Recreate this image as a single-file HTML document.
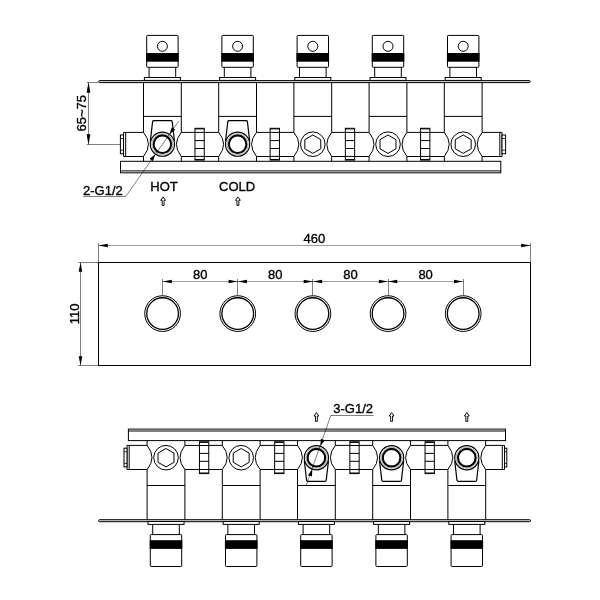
<!DOCTYPE html>
<html><head><meta charset="utf-8"><title>drawing</title>
<style>html,body{margin:0;padding:0;background:#fff}svg{display:block;will-change:transform}text{font-family:"Liberation Sans",sans-serif;fill:#000;stroke:#000;stroke-width:0.35px}</style>
</head><body>
<svg width="600" height="600" viewBox="0 0 600 600">
<rect width="600" height="600" fill="#fff"/>
<path d="M99.60,80.60 H529.20 A1,1 0 0 1 529.20,82.60 H99.60 A1,1 0 0 1 99.60,80.60 Z" fill="#ddd" stroke="#000" stroke-width="1.0" />
<rect x="120.50" y="161.30" width="380.30" height="11.50" rx="0" fill="#fff" stroke="#000" stroke-width="1.0"/>
<line x1="120.50" y1="170.90" x2="500.80" y2="170.90" stroke="#000" stroke-width="1.0"/>
<rect x="146.70" y="35.40" width="31.40" height="31.90" rx="0.8" fill="#fff" stroke="#000" stroke-width="1.0"/>
<circle cx="162.40" cy="46.30" r="5.00" fill="none" stroke="#000" stroke-width="1.0"/>
<rect x="146.10" y="53.00" width="32.60" height="8.70" rx="0" fill="#000" stroke="none" stroke-width="0"/>
<line x1="149.10" y1="67.30" x2="149.10" y2="77.50" stroke="#000" stroke-width="1.0"/>
<line x1="175.70" y1="67.30" x2="175.70" y2="77.50" stroke="#000" stroke-width="1.0"/>
<rect x="144.40" y="77.50" width="36.00" height="2.90" rx="0" fill="#fff" stroke="#000" stroke-width="1.0"/>
<line x1="143.50" y1="82.40" x2="143.50" y2="132.40" stroke="#000" stroke-width="1.0"/>
<line x1="181.30" y1="82.40" x2="181.30" y2="132.40" stroke="#000" stroke-width="1.0"/>
<line x1="143.50" y1="156.50" x2="143.50" y2="161.30" stroke="#000" stroke-width="1.0"/>
<line x1="181.30" y1="156.50" x2="181.30" y2="161.30" stroke="#000" stroke-width="1.0"/>
<line x1="143.50" y1="116.40" x2="181.30" y2="116.40" stroke="#000" stroke-width="1.0"/>
<path d="M143.50,132.40 Q153.30,144.20 143.50,156.50" fill="none" stroke="#000" stroke-width="1.0" />
<path d="M181.30,132.40 Q171.50,144.20 181.30,156.50" fill="none" stroke="#000" stroke-width="1.0" />
<path d="M150.30,141.20 L152.60,121.60 Q152.80,120.60 153.80,120.60 H171.00 Q172.00,120.60 172.20,121.60 L174.50,141.20" fill="none" stroke="#000" stroke-width="1.2" />
<circle cx="162.40" cy="144.20" r="12.10" fill="#fff" stroke="#000" stroke-width="1.15"/>
<circle cx="162.40" cy="144.20" r="10.65" fill="none" stroke="#000" stroke-width="0.3"/>
<circle cx="162.40" cy="144.20" r="8.80" fill="none" stroke="#000" stroke-width="2.1"/>
<rect x="221.90" y="35.40" width="31.40" height="31.90" rx="0.8" fill="#fff" stroke="#000" stroke-width="1.0"/>
<circle cx="237.60" cy="46.30" r="5.00" fill="none" stroke="#000" stroke-width="1.0"/>
<rect x="221.30" y="53.00" width="32.60" height="8.70" rx="0" fill="#000" stroke="none" stroke-width="0"/>
<line x1="224.30" y1="67.30" x2="224.30" y2="77.50" stroke="#000" stroke-width="1.0"/>
<line x1="250.90" y1="67.30" x2="250.90" y2="77.50" stroke="#000" stroke-width="1.0"/>
<rect x="219.60" y="77.50" width="36.00" height="2.90" rx="0" fill="#fff" stroke="#000" stroke-width="1.0"/>
<line x1="218.70" y1="82.40" x2="218.70" y2="132.40" stroke="#000" stroke-width="1.0"/>
<line x1="256.50" y1="82.40" x2="256.50" y2="132.40" stroke="#000" stroke-width="1.0"/>
<line x1="218.70" y1="156.50" x2="218.70" y2="161.30" stroke="#000" stroke-width="1.0"/>
<line x1="256.50" y1="156.50" x2="256.50" y2="161.30" stroke="#000" stroke-width="1.0"/>
<line x1="218.70" y1="116.40" x2="256.50" y2="116.40" stroke="#000" stroke-width="1.0"/>
<path d="M218.70,132.40 Q228.50,144.20 218.70,156.50" fill="none" stroke="#000" stroke-width="1.0" />
<path d="M256.50,132.40 Q246.70,144.20 256.50,156.50" fill="none" stroke="#000" stroke-width="1.0" />
<path d="M225.50,141.20 L227.80,121.60 Q228.00,120.60 229.00,120.60 H246.20 Q247.20,120.60 247.40,121.60 L249.70,141.20" fill="none" stroke="#000" stroke-width="1.2" />
<circle cx="237.60" cy="144.20" r="12.10" fill="#fff" stroke="#000" stroke-width="1.15"/>
<circle cx="237.60" cy="144.20" r="10.65" fill="none" stroke="#000" stroke-width="0.3"/>
<circle cx="237.60" cy="144.20" r="8.80" fill="none" stroke="#000" stroke-width="2.1"/>
<rect x="297.10" y="35.40" width="31.40" height="31.90" rx="0.8" fill="#fff" stroke="#000" stroke-width="1.0"/>
<circle cx="312.80" cy="46.30" r="5.00" fill="none" stroke="#000" stroke-width="1.0"/>
<rect x="296.50" y="53.00" width="32.60" height="8.70" rx="0" fill="#000" stroke="none" stroke-width="0"/>
<line x1="299.50" y1="67.30" x2="299.50" y2="77.50" stroke="#000" stroke-width="1.0"/>
<line x1="326.10" y1="67.30" x2="326.10" y2="77.50" stroke="#000" stroke-width="1.0"/>
<rect x="294.80" y="77.50" width="36.00" height="2.90" rx="0" fill="#fff" stroke="#000" stroke-width="1.0"/>
<line x1="293.90" y1="82.40" x2="293.90" y2="132.40" stroke="#000" stroke-width="1.0"/>
<line x1="331.70" y1="82.40" x2="331.70" y2="132.40" stroke="#000" stroke-width="1.0"/>
<line x1="293.90" y1="156.50" x2="293.90" y2="161.30" stroke="#000" stroke-width="1.0"/>
<line x1="331.70" y1="156.50" x2="331.70" y2="161.30" stroke="#000" stroke-width="1.0"/>
<line x1="293.90" y1="116.40" x2="331.70" y2="116.40" stroke="#000" stroke-width="1.0"/>
<path d="M293.90,132.40 Q303.70,144.20 293.90,156.50" fill="none" stroke="#000" stroke-width="1.0" />
<path d="M331.70,132.40 Q321.90,144.20 331.70,156.50" fill="none" stroke="#000" stroke-width="1.0" />
<circle cx="312.80" cy="144.20" r="12.30" fill="#fff" stroke="#000" stroke-width="1.0"/>
<path d="M312.80,153.40 L304.83,148.80 L304.83,139.60 L312.80,135.00 L320.77,139.60 L320.77,148.80 Z" fill="none" stroke="#000" stroke-width="1.0" />
<rect x="372.30" y="35.40" width="31.40" height="31.90" rx="0.8" fill="#fff" stroke="#000" stroke-width="1.0"/>
<circle cx="388.00" cy="46.30" r="5.00" fill="none" stroke="#000" stroke-width="1.0"/>
<rect x="371.70" y="53.00" width="32.60" height="8.70" rx="0" fill="#000" stroke="none" stroke-width="0"/>
<line x1="374.70" y1="67.30" x2="374.70" y2="77.50" stroke="#000" stroke-width="1.0"/>
<line x1="401.30" y1="67.30" x2="401.30" y2="77.50" stroke="#000" stroke-width="1.0"/>
<rect x="370.00" y="77.50" width="36.00" height="2.90" rx="0" fill="#fff" stroke="#000" stroke-width="1.0"/>
<line x1="369.10" y1="82.40" x2="369.10" y2="132.40" stroke="#000" stroke-width="1.0"/>
<line x1="406.90" y1="82.40" x2="406.90" y2="132.40" stroke="#000" stroke-width="1.0"/>
<line x1="369.10" y1="156.50" x2="369.10" y2="161.30" stroke="#000" stroke-width="1.0"/>
<line x1="406.90" y1="156.50" x2="406.90" y2="161.30" stroke="#000" stroke-width="1.0"/>
<line x1="369.10" y1="116.40" x2="406.90" y2="116.40" stroke="#000" stroke-width="1.0"/>
<path d="M369.10,132.40 Q378.90,144.20 369.10,156.50" fill="none" stroke="#000" stroke-width="1.0" />
<path d="M406.90,132.40 Q397.10,144.20 406.90,156.50" fill="none" stroke="#000" stroke-width="1.0" />
<circle cx="388.00" cy="144.20" r="12.30" fill="#fff" stroke="#000" stroke-width="1.0"/>
<path d="M388.00,153.40 L380.03,148.80 L380.03,139.60 L388.00,135.00 L395.97,139.60 L395.97,148.80 Z" fill="none" stroke="#000" stroke-width="1.0" />
<rect x="447.50" y="35.40" width="31.40" height="31.90" rx="0.8" fill="#fff" stroke="#000" stroke-width="1.0"/>
<circle cx="463.20" cy="46.30" r="5.00" fill="none" stroke="#000" stroke-width="1.0"/>
<rect x="446.90" y="53.00" width="32.60" height="8.70" rx="0" fill="#000" stroke="none" stroke-width="0"/>
<line x1="449.90" y1="67.30" x2="449.90" y2="77.50" stroke="#000" stroke-width="1.0"/>
<line x1="476.50" y1="67.30" x2="476.50" y2="77.50" stroke="#000" stroke-width="1.0"/>
<rect x="445.20" y="77.50" width="36.00" height="2.90" rx="0" fill="#fff" stroke="#000" stroke-width="1.0"/>
<line x1="444.30" y1="82.40" x2="444.30" y2="132.40" stroke="#000" stroke-width="1.0"/>
<line x1="482.10" y1="82.40" x2="482.10" y2="132.40" stroke="#000" stroke-width="1.0"/>
<line x1="444.30" y1="156.50" x2="444.30" y2="161.30" stroke="#000" stroke-width="1.0"/>
<line x1="482.10" y1="156.50" x2="482.10" y2="161.30" stroke="#000" stroke-width="1.0"/>
<line x1="444.30" y1="116.40" x2="482.10" y2="116.40" stroke="#000" stroke-width="1.0"/>
<path d="M444.30,132.40 Q454.10,144.20 444.30,156.50" fill="none" stroke="#000" stroke-width="1.0" />
<path d="M482.10,132.40 Q472.30,144.20 482.10,156.50" fill="none" stroke="#000" stroke-width="1.0" />
<circle cx="463.20" cy="144.20" r="12.30" fill="#fff" stroke="#000" stroke-width="1.0"/>
<path d="M463.20,153.40 L455.23,148.80 L455.23,139.60 L463.20,135.00 L471.17,139.60 L471.17,148.80 Z" fill="none" stroke="#000" stroke-width="1.0" />
<line x1="181.30" y1="132.40" x2="218.70" y2="132.40" stroke="#000" stroke-width="1.0"/>
<line x1="181.30" y1="156.50" x2="218.70" y2="156.50" stroke="#000" stroke-width="1.0"/>
<rect x="194.95" y="128.30" width="9.30" height="31.80" rx="0" fill="#fff" stroke="#000" stroke-width="1.0"/>
<line x1="194.95" y1="128.90" x2="204.25" y2="128.90" stroke="#000" stroke-width="1.0"/>
<line x1="194.95" y1="132.40" x2="204.25" y2="132.40" stroke="#000" stroke-width="1.0"/>
<line x1="194.95" y1="140.60" x2="204.25" y2="140.60" stroke="#000" stroke-width="1.0"/>
<line x1="194.95" y1="148.50" x2="204.25" y2="148.50" stroke="#000" stroke-width="1.0"/>
<line x1="194.95" y1="156.40" x2="204.25" y2="156.40" stroke="#000" stroke-width="1.0"/>
<line x1="194.95" y1="159.50" x2="204.25" y2="159.50" stroke="#000" stroke-width="1.0"/>
<line x1="256.50" y1="132.40" x2="293.90" y2="132.40" stroke="#000" stroke-width="1.0"/>
<line x1="256.50" y1="156.50" x2="293.90" y2="156.50" stroke="#000" stroke-width="1.0"/>
<rect x="270.15" y="128.30" width="9.30" height="31.80" rx="0" fill="#fff" stroke="#000" stroke-width="1.0"/>
<line x1="270.15" y1="128.90" x2="279.45" y2="128.90" stroke="#000" stroke-width="1.0"/>
<line x1="270.15" y1="132.40" x2="279.45" y2="132.40" stroke="#000" stroke-width="1.0"/>
<line x1="270.15" y1="140.60" x2="279.45" y2="140.60" stroke="#000" stroke-width="1.0"/>
<line x1="270.15" y1="148.50" x2="279.45" y2="148.50" stroke="#000" stroke-width="1.0"/>
<line x1="270.15" y1="156.40" x2="279.45" y2="156.40" stroke="#000" stroke-width="1.0"/>
<line x1="270.15" y1="159.50" x2="279.45" y2="159.50" stroke="#000" stroke-width="1.0"/>
<line x1="331.70" y1="132.40" x2="369.10" y2="132.40" stroke="#000" stroke-width="1.0"/>
<line x1="331.70" y1="156.50" x2="369.10" y2="156.50" stroke="#000" stroke-width="1.0"/>
<rect x="345.35" y="128.30" width="9.30" height="31.80" rx="0" fill="#fff" stroke="#000" stroke-width="1.0"/>
<line x1="345.35" y1="128.90" x2="354.65" y2="128.90" stroke="#000" stroke-width="1.0"/>
<line x1="345.35" y1="132.40" x2="354.65" y2="132.40" stroke="#000" stroke-width="1.0"/>
<line x1="345.35" y1="140.60" x2="354.65" y2="140.60" stroke="#000" stroke-width="1.0"/>
<line x1="345.35" y1="148.50" x2="354.65" y2="148.50" stroke="#000" stroke-width="1.0"/>
<line x1="345.35" y1="156.40" x2="354.65" y2="156.40" stroke="#000" stroke-width="1.0"/>
<line x1="345.35" y1="159.50" x2="354.65" y2="159.50" stroke="#000" stroke-width="1.0"/>
<line x1="406.90" y1="132.40" x2="444.30" y2="132.40" stroke="#000" stroke-width="1.0"/>
<line x1="406.90" y1="156.50" x2="444.30" y2="156.50" stroke="#000" stroke-width="1.0"/>
<rect x="420.55" y="128.30" width="9.30" height="31.80" rx="0" fill="#fff" stroke="#000" stroke-width="1.0"/>
<line x1="420.55" y1="128.90" x2="429.85" y2="128.90" stroke="#000" stroke-width="1.0"/>
<line x1="420.55" y1="132.40" x2="429.85" y2="132.40" stroke="#000" stroke-width="1.0"/>
<line x1="420.55" y1="140.60" x2="429.85" y2="140.60" stroke="#000" stroke-width="1.0"/>
<line x1="420.55" y1="148.50" x2="429.85" y2="148.50" stroke="#000" stroke-width="1.0"/>
<line x1="420.55" y1="156.40" x2="429.85" y2="156.40" stroke="#000" stroke-width="1.0"/>
<line x1="420.55" y1="159.50" x2="429.85" y2="159.50" stroke="#000" stroke-width="1.0"/>
<path d="M143.50,132.40 H123.50 V156.50 H143.50" fill="none" stroke="#000" stroke-width="1.0" />
<line x1="125.70" y1="132.40" x2="125.70" y2="156.50" stroke="#000" stroke-width="1.0"/>
<rect x="120.40" y="135.00" width="3.10" height="18.70" rx="0" fill="#fff" stroke="#000" stroke-width="1.0"/>
<line x1="120.40" y1="138.50" x2="123.50" y2="138.50" stroke="#000" stroke-width="0.8"/>
<line x1="120.40" y1="150.20" x2="123.50" y2="150.20" stroke="#000" stroke-width="0.8"/>
<path d="M482.10,132.40 H502.00 V156.50 H482.10" fill="none" stroke="#000" stroke-width="1.0" />
<line x1="499.80" y1="132.40" x2="499.80" y2="156.50" stroke="#000" stroke-width="1.0"/>
<rect x="502.00" y="135.00" width="3.60" height="18.70" rx="0" fill="#fff" stroke="#000" stroke-width="1.0"/>
<line x1="502.00" y1="138.50" x2="505.60" y2="138.50" stroke="#000" stroke-width="0.8"/>
<line x1="502.00" y1="150.20" x2="505.60" y2="150.20" stroke="#000" stroke-width="0.8"/>
<line x1="86.70" y1="82.50" x2="98.30" y2="82.50" stroke="#000" stroke-width="0.5"/>
<line x1="86.70" y1="144.50" x2="120.00" y2="144.50" stroke="#000" stroke-width="0.5"/>
<line x1="88.50" y1="82.50" x2="88.50" y2="144.50" stroke="#000" stroke-width="0.5"/>
<polygon points="88.50,82.30 90.40,92.80 86.60,92.80" fill="#000"/>
<polygon points="88.50,144.70 86.60,134.20 90.40,134.20" fill="#000"/>
<text x="86.30" y="113.30" font-size="13" text-anchor="middle" transform="rotate(-90 86.30 113.30)">65~75</text>
<text x="83.00" y="194.70" font-size="13" text-anchor="start">2-G1/2</text>
<line x1="83.30" y1="196.50" x2="125.80" y2="196.50" stroke="#000" stroke-width="0.5"/>
<line x1="125.80" y1="196.30" x2="178.80" y2="121.10" stroke="#000" stroke-width="0.5"/>
<polygon points="169.48,134.14 171.80,127.21 175.23,129.63" fill="#000"/>
<polygon points="155.32,154.26 153.00,161.19 149.57,158.77" fill="#000"/>
<text x="150.30" y="191.00" font-size="13" text-anchor="start">HOT</text>
<text x="219.00" y="191.00" font-size="13" text-anchor="start">COLD</text>
<path d="M163.10,196.90 L165.50,200.30 H164.05 V205.45 H162.15 V200.30 H160.70 Z" fill="none" stroke="#000" stroke-width="0.95" stroke-linejoin="miter"/>
<path d="M237.90,196.90 L240.30,200.30 H238.85 V205.45 H236.95 V200.30 H235.50 Z" fill="none" stroke="#000" stroke-width="0.95" stroke-linejoin="miter"/>
<rect x="98.50" y="262.50" width="432.00" height="103.00" rx="0" fill="none" stroke="#000" stroke-width="1.0"/>
<line x1="98.50" y1="243.00" x2="98.50" y2="262.00" stroke="#000" stroke-width="0.5"/>
<line x1="530.50" y1="243.00" x2="530.50" y2="262.00" stroke="#000" stroke-width="0.5"/>
<line x1="98.50" y1="245.50" x2="530.50" y2="245.50" stroke="#000" stroke-width="0.38"/>
<polygon points="98.30,245.50 107.80,243.70 107.80,247.30" fill="#000"/>
<polygon points="530.70,245.50 521.20,247.30 521.20,243.70" fill="#000"/>
<text x="314.30" y="243.00" font-size="13" text-anchor="middle">460</text>
<line x1="78.30" y1="262.50" x2="98.50" y2="262.50" stroke="#000" stroke-width="0.5"/>
<line x1="78.30" y1="365.50" x2="98.50" y2="365.50" stroke="#000" stroke-width="0.5"/>
<line x1="80.50" y1="262.50" x2="80.50" y2="365.50" stroke="#000" stroke-width="0.5"/>
<polygon points="80.50,262.30 82.30,271.80 78.70,271.80" fill="#000"/>
<polygon points="80.50,365.70 78.70,356.20 82.30,356.20" fill="#000"/>
<text x="79.00" y="313.90" font-size="13" text-anchor="middle" transform="rotate(-90 79.00 313.90)">110</text>
<circle cx="162.60" cy="313.60" r="17.85" fill="none" stroke="#000" stroke-width="1.0"/>
<circle cx="162.60" cy="313.60" r="15.85" fill="none" stroke="#000" stroke-width="1.3"/>
<line x1="162.50" y1="279.00" x2="162.50" y2="295.40" stroke="#000" stroke-width="0.5"/>
<line x1="162.60" y1="281.50" x2="237.75" y2="281.50" stroke="#000" stroke-width="0.38"/>
<polygon points="162.60,281.50 171.80,279.70 171.80,283.30" fill="#000"/>
<polygon points="237.75,281.50 228.55,283.30 228.55,279.70" fill="#000"/>
<text x="200.18" y="279.00" font-size="13" text-anchor="middle">80</text>
<circle cx="237.75" cy="313.60" r="17.85" fill="none" stroke="#000" stroke-width="1.0"/>
<circle cx="237.75" cy="313.60" r="15.85" fill="none" stroke="#000" stroke-width="1.3"/>
<line x1="237.50" y1="279.00" x2="237.50" y2="295.40" stroke="#000" stroke-width="0.5"/>
<line x1="237.75" y1="281.50" x2="312.90" y2="281.50" stroke="#000" stroke-width="0.38"/>
<polygon points="237.75,281.50 246.95,279.70 246.95,283.30" fill="#000"/>
<polygon points="312.90,281.50 303.70,283.30 303.70,279.70" fill="#000"/>
<text x="275.32" y="279.00" font-size="13" text-anchor="middle">80</text>
<circle cx="312.90" cy="313.60" r="17.85" fill="none" stroke="#000" stroke-width="1.0"/>
<circle cx="312.90" cy="313.60" r="15.85" fill="none" stroke="#000" stroke-width="1.3"/>
<line x1="312.50" y1="279.00" x2="312.50" y2="295.40" stroke="#000" stroke-width="0.5"/>
<line x1="312.90" y1="281.50" x2="388.05" y2="281.50" stroke="#000" stroke-width="0.38"/>
<polygon points="312.90,281.50 322.10,279.70 322.10,283.30" fill="#000"/>
<polygon points="388.05,281.50 378.85,283.30 378.85,279.70" fill="#000"/>
<text x="350.48" y="279.00" font-size="13" text-anchor="middle">80</text>
<circle cx="388.05" cy="313.60" r="17.85" fill="none" stroke="#000" stroke-width="1.0"/>
<circle cx="388.05" cy="313.60" r="15.85" fill="none" stroke="#000" stroke-width="1.3"/>
<line x1="388.50" y1="279.00" x2="388.50" y2="295.40" stroke="#000" stroke-width="0.5"/>
<line x1="388.05" y1="281.50" x2="463.20" y2="281.50" stroke="#000" stroke-width="0.38"/>
<polygon points="388.05,281.50 397.25,279.70 397.25,283.30" fill="#000"/>
<polygon points="463.20,281.50 454.00,283.30 454.00,279.70" fill="#000"/>
<text x="425.62" y="279.00" font-size="13" text-anchor="middle">80</text>
<circle cx="463.20" cy="313.60" r="17.85" fill="none" stroke="#000" stroke-width="1.0"/>
<circle cx="463.20" cy="313.60" r="15.85" fill="none" stroke="#000" stroke-width="1.3"/>
<line x1="463.50" y1="279.00" x2="463.50" y2="295.40" stroke="#000" stroke-width="0.5"/>
<path d="M99.60,521.70 H529.60 A1,1 0 0 0 529.60,519.70 H99.60 A1,1 0 0 0 99.60,521.70 Z" fill="#ddd" stroke="#000" stroke-width="1.0" />
<rect x="128.40" y="429.10" width="377.10" height="11.50" rx="0" fill="#fff" stroke="#000" stroke-width="1.0"/>
<line x1="128.40" y1="431.00" x2="505.50" y2="431.00" stroke="#000" stroke-width="1.0"/>
<rect x="150.30" y="534.60" width="31.40" height="31.90" rx="0.8" fill="#fff" stroke="#000" stroke-width="1.0"/>
<rect x="149.70" y="540.20" width="32.60" height="8.70" rx="0" fill="#000" stroke="none" stroke-width="0"/>
<line x1="152.70" y1="534.60" x2="152.70" y2="524.40" stroke="#000" stroke-width="1.0"/>
<line x1="179.30" y1="534.60" x2="179.30" y2="524.40" stroke="#000" stroke-width="1.0"/>
<rect x="148.00" y="521.50" width="36.00" height="2.90" rx="0" fill="#fff" stroke="#000" stroke-width="1.0"/>
<line x1="147.10" y1="519.50" x2="147.10" y2="469.50" stroke="#000" stroke-width="1.0"/>
<line x1="184.90" y1="519.50" x2="184.90" y2="469.50" stroke="#000" stroke-width="1.0"/>
<line x1="147.10" y1="445.40" x2="147.10" y2="440.60" stroke="#000" stroke-width="1.0"/>
<line x1="184.90" y1="445.40" x2="184.90" y2="440.60" stroke="#000" stroke-width="1.0"/>
<line x1="147.10" y1="485.50" x2="184.90" y2="485.50" stroke="#000" stroke-width="1.0"/>
<path d="M147.10,469.50 Q156.90,457.70 147.10,445.40" fill="none" stroke="#000" stroke-width="1.0" />
<path d="M184.90,469.50 Q175.10,457.70 184.90,445.40" fill="none" stroke="#000" stroke-width="1.0" />
<circle cx="166.00" cy="457.70" r="12.30" fill="#fff" stroke="#000" stroke-width="1.0"/>
<path d="M166.00,466.90 L158.03,462.30 L158.03,453.10 L166.00,448.50 L173.97,453.10 L173.97,462.30 Z" fill="none" stroke="#000" stroke-width="1.0" />
<rect x="225.50" y="534.60" width="31.40" height="31.90" rx="0.8" fill="#fff" stroke="#000" stroke-width="1.0"/>
<rect x="224.90" y="540.20" width="32.60" height="8.70" rx="0" fill="#000" stroke="none" stroke-width="0"/>
<line x1="227.90" y1="534.60" x2="227.90" y2="524.40" stroke="#000" stroke-width="1.0"/>
<line x1="254.50" y1="534.60" x2="254.50" y2="524.40" stroke="#000" stroke-width="1.0"/>
<rect x="223.20" y="521.50" width="36.00" height="2.90" rx="0" fill="#fff" stroke="#000" stroke-width="1.0"/>
<line x1="222.30" y1="519.50" x2="222.30" y2="469.50" stroke="#000" stroke-width="1.0"/>
<line x1="260.10" y1="519.50" x2="260.10" y2="469.50" stroke="#000" stroke-width="1.0"/>
<line x1="222.30" y1="445.40" x2="222.30" y2="440.60" stroke="#000" stroke-width="1.0"/>
<line x1="260.10" y1="445.40" x2="260.10" y2="440.60" stroke="#000" stroke-width="1.0"/>
<line x1="222.30" y1="485.50" x2="260.10" y2="485.50" stroke="#000" stroke-width="1.0"/>
<path d="M222.30,469.50 Q232.10,457.70 222.30,445.40" fill="none" stroke="#000" stroke-width="1.0" />
<path d="M260.10,469.50 Q250.30,457.70 260.10,445.40" fill="none" stroke="#000" stroke-width="1.0" />
<circle cx="241.20" cy="457.70" r="12.30" fill="#fff" stroke="#000" stroke-width="1.0"/>
<path d="M241.20,466.90 L233.23,462.30 L233.23,453.10 L241.20,448.50 L249.17,453.10 L249.17,462.30 Z" fill="none" stroke="#000" stroke-width="1.0" />
<rect x="300.70" y="534.60" width="31.40" height="31.90" rx="0.8" fill="#fff" stroke="#000" stroke-width="1.0"/>
<rect x="300.10" y="540.20" width="32.60" height="8.70" rx="0" fill="#000" stroke="none" stroke-width="0"/>
<line x1="303.10" y1="534.60" x2="303.10" y2="524.40" stroke="#000" stroke-width="1.0"/>
<line x1="329.70" y1="534.60" x2="329.70" y2="524.40" stroke="#000" stroke-width="1.0"/>
<rect x="298.40" y="521.50" width="36.00" height="2.90" rx="0" fill="#fff" stroke="#000" stroke-width="1.0"/>
<line x1="297.50" y1="519.50" x2="297.50" y2="469.50" stroke="#000" stroke-width="1.0"/>
<line x1="335.30" y1="519.50" x2="335.30" y2="469.50" stroke="#000" stroke-width="1.0"/>
<line x1="297.50" y1="445.40" x2="297.50" y2="440.60" stroke="#000" stroke-width="1.0"/>
<line x1="335.30" y1="445.40" x2="335.30" y2="440.60" stroke="#000" stroke-width="1.0"/>
<line x1="297.50" y1="485.50" x2="335.30" y2="485.50" stroke="#000" stroke-width="1.0"/>
<path d="M297.50,469.50 Q307.30,457.70 297.50,445.40" fill="none" stroke="#000" stroke-width="1.0" />
<path d="M335.30,469.50 Q325.50,457.70 335.30,445.40" fill="none" stroke="#000" stroke-width="1.0" />
<path d="M304.30,460.70 L306.60,480.30 Q306.80,481.30 307.80,481.30 H325.00 Q326.00,481.30 326.20,480.30 L328.50,460.70" fill="none" stroke="#000" stroke-width="1.2" />
<circle cx="316.40" cy="457.70" r="12.10" fill="#fff" stroke="#000" stroke-width="1.15"/>
<circle cx="316.40" cy="457.70" r="10.65" fill="none" stroke="#000" stroke-width="0.3"/>
<circle cx="316.40" cy="457.70" r="8.80" fill="none" stroke="#000" stroke-width="2.1"/>
<rect x="375.90" y="534.60" width="31.40" height="31.90" rx="0.8" fill="#fff" stroke="#000" stroke-width="1.0"/>
<rect x="375.30" y="540.20" width="32.60" height="8.70" rx="0" fill="#000" stroke="none" stroke-width="0"/>
<line x1="378.30" y1="534.60" x2="378.30" y2="524.40" stroke="#000" stroke-width="1.0"/>
<line x1="404.90" y1="534.60" x2="404.90" y2="524.40" stroke="#000" stroke-width="1.0"/>
<rect x="373.60" y="521.50" width="36.00" height="2.90" rx="0" fill="#fff" stroke="#000" stroke-width="1.0"/>
<line x1="372.70" y1="519.50" x2="372.70" y2="469.50" stroke="#000" stroke-width="1.0"/>
<line x1="410.50" y1="519.50" x2="410.50" y2="469.50" stroke="#000" stroke-width="1.0"/>
<line x1="372.70" y1="445.40" x2="372.70" y2="440.60" stroke="#000" stroke-width="1.0"/>
<line x1="410.50" y1="445.40" x2="410.50" y2="440.60" stroke="#000" stroke-width="1.0"/>
<line x1="372.70" y1="485.50" x2="410.50" y2="485.50" stroke="#000" stroke-width="1.0"/>
<path d="M372.70,469.50 Q382.50,457.70 372.70,445.40" fill="none" stroke="#000" stroke-width="1.0" />
<path d="M410.50,469.50 Q400.70,457.70 410.50,445.40" fill="none" stroke="#000" stroke-width="1.0" />
<path d="M379.50,460.70 L381.80,480.30 Q382.00,481.30 383.00,481.30 H400.20 Q401.20,481.30 401.40,480.30 L403.70,460.70" fill="none" stroke="#000" stroke-width="1.2" />
<circle cx="391.60" cy="457.70" r="12.10" fill="#fff" stroke="#000" stroke-width="1.15"/>
<circle cx="391.60" cy="457.70" r="10.65" fill="none" stroke="#000" stroke-width="0.3"/>
<circle cx="391.60" cy="457.70" r="8.80" fill="none" stroke="#000" stroke-width="2.1"/>
<rect x="451.10" y="534.60" width="31.40" height="31.90" rx="0.8" fill="#fff" stroke="#000" stroke-width="1.0"/>
<rect x="450.50" y="540.20" width="32.60" height="8.70" rx="0" fill="#000" stroke="none" stroke-width="0"/>
<line x1="453.50" y1="534.60" x2="453.50" y2="524.40" stroke="#000" stroke-width="1.0"/>
<line x1="480.10" y1="534.60" x2="480.10" y2="524.40" stroke="#000" stroke-width="1.0"/>
<rect x="448.80" y="521.50" width="36.00" height="2.90" rx="0" fill="#fff" stroke="#000" stroke-width="1.0"/>
<line x1="447.90" y1="519.50" x2="447.90" y2="469.50" stroke="#000" stroke-width="1.0"/>
<line x1="485.70" y1="519.50" x2="485.70" y2="469.50" stroke="#000" stroke-width="1.0"/>
<line x1="447.90" y1="445.40" x2="447.90" y2="440.60" stroke="#000" stroke-width="1.0"/>
<line x1="485.70" y1="445.40" x2="485.70" y2="440.60" stroke="#000" stroke-width="1.0"/>
<line x1="447.90" y1="485.50" x2="485.70" y2="485.50" stroke="#000" stroke-width="1.0"/>
<path d="M447.90,469.50 Q457.70,457.70 447.90,445.40" fill="none" stroke="#000" stroke-width="1.0" />
<path d="M485.70,469.50 Q475.90,457.70 485.70,445.40" fill="none" stroke="#000" stroke-width="1.0" />
<path d="M454.70,460.70 L457.00,480.30 Q457.20,481.30 458.20,481.30 H475.40 Q476.40,481.30 476.60,480.30 L478.90,460.70" fill="none" stroke="#000" stroke-width="1.2" />
<circle cx="466.80" cy="457.70" r="12.10" fill="#fff" stroke="#000" stroke-width="1.15"/>
<circle cx="466.80" cy="457.70" r="10.65" fill="none" stroke="#000" stroke-width="0.3"/>
<circle cx="466.80" cy="457.70" r="8.80" fill="none" stroke="#000" stroke-width="2.1"/>
<line x1="184.90" y1="469.50" x2="222.30" y2="469.50" stroke="#000" stroke-width="1.0"/>
<line x1="184.90" y1="445.40" x2="222.30" y2="445.40" stroke="#000" stroke-width="1.0"/>
<rect x="199.45" y="441.80" width="9.30" height="31.80" rx="0" fill="#fff" stroke="#000" stroke-width="1.0"/>
<line x1="199.45" y1="473.00" x2="208.75" y2="473.00" stroke="#000" stroke-width="1.0"/>
<line x1="199.45" y1="469.50" x2="208.75" y2="469.50" stroke="#000" stroke-width="1.0"/>
<line x1="199.45" y1="461.30" x2="208.75" y2="461.30" stroke="#000" stroke-width="1.0"/>
<line x1="199.45" y1="453.40" x2="208.75" y2="453.40" stroke="#000" stroke-width="1.0"/>
<line x1="199.45" y1="445.50" x2="208.75" y2="445.50" stroke="#000" stroke-width="1.0"/>
<line x1="199.45" y1="442.40" x2="208.75" y2="442.40" stroke="#000" stroke-width="1.0"/>
<line x1="260.10" y1="469.50" x2="297.50" y2="469.50" stroke="#000" stroke-width="1.0"/>
<line x1="260.10" y1="445.40" x2="297.50" y2="445.40" stroke="#000" stroke-width="1.0"/>
<rect x="274.65" y="441.80" width="9.30" height="31.80" rx="0" fill="#fff" stroke="#000" stroke-width="1.0"/>
<line x1="274.65" y1="473.00" x2="283.95" y2="473.00" stroke="#000" stroke-width="1.0"/>
<line x1="274.65" y1="469.50" x2="283.95" y2="469.50" stroke="#000" stroke-width="1.0"/>
<line x1="274.65" y1="461.30" x2="283.95" y2="461.30" stroke="#000" stroke-width="1.0"/>
<line x1="274.65" y1="453.40" x2="283.95" y2="453.40" stroke="#000" stroke-width="1.0"/>
<line x1="274.65" y1="445.50" x2="283.95" y2="445.50" stroke="#000" stroke-width="1.0"/>
<line x1="274.65" y1="442.40" x2="283.95" y2="442.40" stroke="#000" stroke-width="1.0"/>
<line x1="335.30" y1="469.50" x2="372.70" y2="469.50" stroke="#000" stroke-width="1.0"/>
<line x1="335.30" y1="445.40" x2="372.70" y2="445.40" stroke="#000" stroke-width="1.0"/>
<rect x="349.85" y="441.80" width="9.30" height="31.80" rx="0" fill="#fff" stroke="#000" stroke-width="1.0"/>
<line x1="349.85" y1="473.00" x2="359.15" y2="473.00" stroke="#000" stroke-width="1.0"/>
<line x1="349.85" y1="469.50" x2="359.15" y2="469.50" stroke="#000" stroke-width="1.0"/>
<line x1="349.85" y1="461.30" x2="359.15" y2="461.30" stroke="#000" stroke-width="1.0"/>
<line x1="349.85" y1="453.40" x2="359.15" y2="453.40" stroke="#000" stroke-width="1.0"/>
<line x1="349.85" y1="445.50" x2="359.15" y2="445.50" stroke="#000" stroke-width="1.0"/>
<line x1="349.85" y1="442.40" x2="359.15" y2="442.40" stroke="#000" stroke-width="1.0"/>
<line x1="410.50" y1="469.50" x2="447.90" y2="469.50" stroke="#000" stroke-width="1.0"/>
<line x1="410.50" y1="445.40" x2="447.90" y2="445.40" stroke="#000" stroke-width="1.0"/>
<rect x="425.05" y="441.80" width="9.30" height="31.80" rx="0" fill="#fff" stroke="#000" stroke-width="1.0"/>
<line x1="425.05" y1="473.00" x2="434.35" y2="473.00" stroke="#000" stroke-width="1.0"/>
<line x1="425.05" y1="469.50" x2="434.35" y2="469.50" stroke="#000" stroke-width="1.0"/>
<line x1="425.05" y1="461.30" x2="434.35" y2="461.30" stroke="#000" stroke-width="1.0"/>
<line x1="425.05" y1="453.40" x2="434.35" y2="453.40" stroke="#000" stroke-width="1.0"/>
<line x1="425.05" y1="445.50" x2="434.35" y2="445.50" stroke="#000" stroke-width="1.0"/>
<line x1="425.05" y1="442.40" x2="434.35" y2="442.40" stroke="#000" stroke-width="1.0"/>
<path d="M147.10,469.50 H127.00 V445.40 H147.10" fill="none" stroke="#000" stroke-width="1.0" />
<line x1="129.20" y1="469.50" x2="129.20" y2="445.40" stroke="#000" stroke-width="1.0"/>
<rect x="124.00" y="448.20" width="3.00" height="18.70" rx="0" fill="#fff" stroke="#000" stroke-width="1.0"/>
<line x1="124.00" y1="463.40" x2="127.00" y2="463.40" stroke="#000" stroke-width="0.8"/>
<line x1="124.00" y1="451.70" x2="127.00" y2="451.70" stroke="#000" stroke-width="0.8"/>
<path d="M485.70,469.50 H504.50 V445.40 H485.70" fill="none" stroke="#000" stroke-width="1.0" />
<line x1="502.30" y1="469.50" x2="502.30" y2="445.40" stroke="#000" stroke-width="1.0"/>
<rect x="504.50" y="448.20" width="2.30" height="18.70" rx="0" fill="#fff" stroke="#000" stroke-width="1.0"/>
<line x1="504.50" y1="463.40" x2="506.80" y2="463.40" stroke="#000" stroke-width="0.8"/>
<line x1="504.50" y1="451.70" x2="506.80" y2="451.70" stroke="#000" stroke-width="0.8"/>
<text x="333.30" y="413.00" font-size="13" text-anchor="start">3-G1/2</text>
<line x1="331.00" y1="415.50" x2="373.60" y2="415.50" stroke="#000" stroke-width="0.5"/>
<line x1="331.00" y1="415.00" x2="306.30" y2="485.00" stroke="#000" stroke-width="0.5"/>
<polygon points="320.49,446.10 320.84,438.80 324.80,440.20" fill="#000"/>
<polygon points="312.31,469.30 311.96,476.60 308.00,475.20" fill="#000"/>
<path d="M316.40,412.60 L318.80,416.00 H317.35 V421.35 H315.45 V416.00 H314.00 Z" fill="none" stroke="#000" stroke-width="0.95" stroke-linejoin="miter"/>
<path d="M391.60,412.60 L394.00,416.00 H392.55 V421.35 H390.65 V416.00 H389.20 Z" fill="none" stroke="#000" stroke-width="0.95" stroke-linejoin="miter"/>
<path d="M466.80,412.60 L469.20,416.00 H467.75 V421.35 H465.85 V416.00 H464.40 Z" fill="none" stroke="#000" stroke-width="0.95" stroke-linejoin="miter"/>
</svg>
</body></html>
